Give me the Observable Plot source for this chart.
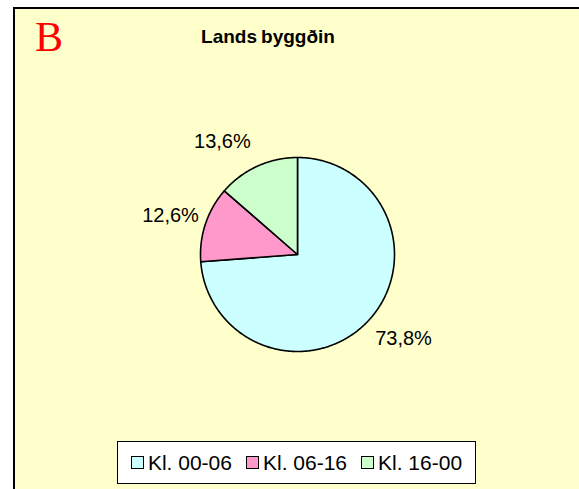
<!DOCTYPE html>
<html>
<head>
<meta charset="utf-8">
<script src="https://cdn.jsdelivr.net/npm/d3@7"></script>
<script src="https://cdn.jsdelivr.net/npm/@observablehq/plot@0.6"></script>
<style>
  html, body { margin: 0; padding: 0; background: #fff; }
  body { width: 579px; height: 489px; position: relative; overflow: hidden; font-family: "Liberation Sans", Arial, sans-serif; }
  #frame { position: absolute; left: 13px; top: 7px; width: 620px; height: 520px; background: #FFFFCC; border-left: 2px solid #000; border-top: 2px solid #000; }
  #letter { position: absolute; left: 35px; top: 16px; font-family: "Liberation Serif", "Times New Roman", serif; font-size: 42px; line-height: 1; color: #FF0000; }
  #title { position: absolute; left: 0; width: 536px; top: 27px; text-align: center; font-size: 19px; line-height: 1; font-weight: bold; color: #000; }
  #title .gap { margin-right: 4px; }
  #chart { position: absolute; left: 96.7px; top: 104.3px; }
  #legend { position: absolute; left: 117px; top: 441px; width: 357px; height: 41px; border: 1px solid #000; background: #fff; display: flex; align-items: center; justify-content: center; gap: 14px; }
  .item { display: flex; align-items: center; gap: 4px; font-size: 21px; line-height: 1; color: #000; }
  .sw { width: 11px; height: 11px; border: 1px solid #000; display: inline-block; }
</style>
</head>
<body>
<div id="frame"></div>
<div id="letter">B</div>
<div id="title"><span class="gap">Lands</span>byggðin</div>
<div id="chart"></div>
<div id="legend"></div>
<script>
const categories = ["Kl. 00-06", "Kl. 06-16", "Kl. 16-00"];
const values = [73.8, 12.6, 13.6];
const valueLabels = ["73,8%", "12,6%", "13,6%"];
const colors = ["#CCFFFF", "#FF99CC", "#CCFFCC"];

const total = d3.sum(values);
const slicePts = [];
const labelPts = [];
let acc = 0;
categories.forEach((c, i) => {
  const a0 = acc / total * 2 * Math.PI;
  acc += values[i];
  const a1 = acc / total * 2 * Math.PI;
  slicePts.push({cat: c, x: 0, y: 0});
  const n = Math.max(2, Math.ceil((a1 - a0) / (Math.PI / 360)));
  for (let k = 0; k <= n; k++) {
    const t = a0 + (a1 - a0) * k / n;
    slicePts.push({cat: c, x: Math.sin(t), y: Math.cos(t)});
  }
  slicePts.push({cat: c, x: 0, y: 0});
  const m = (a0 + a1) / 2;
  const sx = Math.sin(m), sy = Math.cos(m);
  labelPts.push({x: sx + Math.sign(sx) * 0.36, y: sy * 1.278, text: valueLabels[i]});
});

const R = 97;
const W = 400, H = 300;
const chart = Plot.plot({
  width: W,
  height: H,
  margin: 0,
  style: {background: "transparent", overflow: "visible"},
  x: {domain: [-W / 2 / R, W / 2 / R], axis: null},
  y: {domain: [-H / 2 / R, H / 2 / R], axis: null},
  color: {domain: categories, range: colors},
  marks: [
    Plot.line(slicePts, {x: "x", y: "y", z: "cat", fill: "cat", stroke: "#000", strokeWidth: 1.6, strokeLinejoin: "round", curve: "linear"}),
    Plot.text(labelPts, {x: "x", y: "y", text: "text", fill: "#000", fontSize: 20, fontFamily: "Liberation Sans, Arial, sans-serif", textAnchor: "middle", lineAnchor: "middle"})
  ]
});
document.getElementById("chart").appendChild(chart);

const legend = document.getElementById("legend");
categories.forEach((c, i) => {
  const item = document.createElement("div");
  item.className = "item";
  const sw = document.createElement("span");
  sw.className = "sw";
  sw.style.background = colors[i];
  const tx = document.createElement("span");
  tx.textContent = c;
  item.appendChild(sw);
  item.appendChild(tx);
  legend.appendChild(item);
});
</script>
</body>
</html>
